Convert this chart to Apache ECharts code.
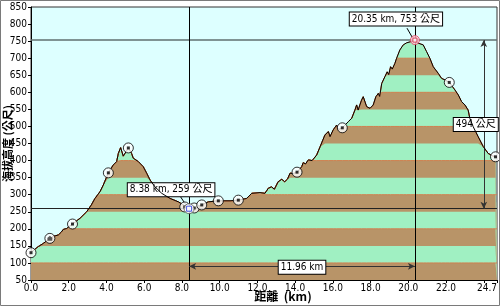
<!DOCTYPE html>
<html>
<head>
<meta charset="utf-8">
<script src="https://cdn.jsdelivr.net/npm/echarts@6/dist/echarts.min.js"></script>
<style>html,body{margin:0;padding:0;background:#fff}#c{width:500px;height:306px}</style>
</head>
<body>
<div id="c"></div>
<script>
// Elevation profile: distance (km) and elevation (公尺)
const dist = [0.00,0.20,0.39,0.65,1.00,1.20,1.45,1.60,1.71,1.89,2.20,2.60,2.95,3.20,3.39,3.66,3.83,4.10,4.36,4.54,4.63,4.75,4.89,4.98,5.16,5.33,5.42,5.69,5.95,6.13,6.31,6.57,6.93,7.37,7.81,8.07,8.38,8.69,9.05,9.40,9.93,10.55,10.99,11.43,11.70,12.14,12.40,12.58,12.75,12.90,13.10,13.29,13.45,13.60,13.73,13.90,14.11,14.35,14.43,14.55,14.70,14.90,15.14,15.32,15.58,15.76,15.85,16.02,16.20,16.29,16.50,16.82,17.00,17.17,17.26,17.34,17.52,17.61,17.79,17.97,18.14,18.28,18.41,18.48,18.59,18.76,18.88,18.96,19.06,19.15,19.29,19.38,19.55,19.73,19.91,20.10,20.35,20.53,20.79,20.97,21.14,21.32,21.58,21.76,21.95,22.17,22.47,22.65,22.82,23.00,23.17,23.26,23.44,23.70,23.97,24.23,24.45,24.62,24.70];
const elev = [130,140,148,157,172,178,182,190,198,201,214,231,250,270,289,309,328,364,387,397,421,438,413,418,437,421,407,397,382,363,343,323,304,289,279,270,259,261,270,279,282,282,284,289,304,306,304,319,323,316,338,345,338,346,363,362,366,382,394,390,402,400,416,440,475,485,470,490,504,490,496,514,524,548,563,548,577,587,558,553,563,587,597,588,626,646,660,652,675,668,685,700,724,739,745,748,753,744,739,719,700,675,656,641,636,629,607,592,573,563,548,524,499,470,441,421,414,411,410];

// Waypoint markers
const markerKm   = [0.0, 2.2, 4.1, 5.16, 8.15, 8.65, 9.05, 9.93, 10.99, 14.1, 16.5, 22.17, 24.62];
const markerElev = [130, 214, 364, 437, 264, 261, 270, 282, 284, 366, 496, 629, 411];
const houseKm = [1.0], houseElev = [172];

// Extremes and measured differences (as labelled)
const lowKm = 8.38, lowElev = 259;
const highKm = 20.35, highElev = 753;
const riseLabel = 494;     // 公尺
const spanLabel = 11.96;   // km
const arrowKm = 24.0, spanArrowElev = 90;

// Band edges (alternating colour stripes)
const bandLows = [50,100,150,200,250,300,350,400,450,500,550,600,650,700,750];

// pick a condensed font if one is installed
function pickNarrow() {
  const cands = ['Liberation Sans Narrow', 'Arial Narrow', 'DejaVu Sans Condensed', 'Roboto Condensed', 'Open Sans Condensed'];
  const ctx = document.createElement('canvas').getContext('2d');
  const s = '8.38 km, 259 0123456789';
  ctx.font = '20px monospace'; const base = ctx.measureText(s).width;
  for (const c of cands) {
    ctx.font = '20px "' + c + '", monospace';
    if (Math.abs(ctx.measureText(s).width - base) > 0.5) return c;
  }
  return null;
}
const narrow = pickNarrow();
const NUM_FONT = narrow ? '"' + narrow + '","Liberation Sans",sans-serif' : '"Liberation Sans",Arial,sans-serif';
const NUM_SIZE = 10;
const CJK_FONT = NUM_FONT.replace(',sans-serif', ',"Noto Sans CJK TC",sans-serif');

const BROWN = '#B89468', GREEN = '#A0F0C2', EDGE = '#D08050';

const profile = dist.map((d, i) => [d, elev[i]]);
const bandSeries = [];
for (let k = bandLows.length - 1; k >= 0; k--) {
  const hi = bandLows[k] + 50;
  const brown = k % 2 === 0;
  bandSeries.push({
    type: 'line', silent: true, symbol: 'none', animation: false,
    data: dist.map((d, i) => [d, Math.min(elev[i], hi)]),
    lineStyle: brown ? { color: EDGE, width: 1 } : { width: 0, opacity: 0 },
    areaStyle: { color: brown ? BROWN : GREEN, opacity: 1, origin: 'start' },
    z: 2
  });
}

const boxLabel = {
  show: true, color: '#000', fontSize: NUM_SIZE, fontFamily: CJK_FONT,
  backgroundColor: '#fff', borderColor: '#000', borderWidth: 1, padding: [2, 2, 1, 2]
};

const chart = echarts.init(document.getElementById('c'), null, { renderer: 'canvas' });
chart.setOption({
  animation: false,
  backgroundColor: '#fff',
  graphic: [{
    type: 'rect', shape: { x: 0.5, y: 0.5, width: 499, height: 305 },
    style: { fill: 'none', stroke: '#7a7a7a', lineWidth: 1 }, z: 100
  }],
  grid: { left: 31, right: 3, top: 7, bottom: 26, outerBoundsMode: 'none', containLabel: false,
    show: true, backgroundColor: '#DDFFFF', borderColor: '#333', borderWidth: 1 },
  xAxis: {
    type: 'value', min: 0, max: 24.7, interval: 2,
    name: '距離  (km)', nameLocation: 'middle', nameGap: 10, nameMoveOverlap: false,
    nameTextStyle: { fontSize: 12, fontWeight: 'bold', color: '#000', fontFamily: '"Noto Sans CJK TC",sans-serif', padding: [0, 0, 0, 38] },
    axisLine: { lineStyle: { color: '#000' } },
    axisTick: { show: true, length: 3, lineStyle: { color: '#000' } },
    axisLabel: { color: '#000', fontSize: NUM_SIZE, fontFamily: NUM_FONT, margin: 3, showMaxLabel: true, alignMaxLabel: 'right',
      formatter: v => (v === 24 ? '' : v.toFixed(1)) },
    splitLine: { show: false }
  },
  yAxis: {
    type: 'value', min: 50, max: 850, interval: 50,
    name: '海拔高度 (公尺)', nameLocation: 'middle', nameGap: 18, nameRotate: 90, nameMoveOverlap: false,
    nameTextStyle: { fontSize: 11, fontWeight: 'bold', color: '#000', fontFamily: '"Noto Sans CJK TC",sans-serif' },
    axisLine: { show: true, lineStyle: { color: '#000' } },
    axisTick: { show: true, length: 3, lineStyle: { color: '#000' } },
    axisLabel: { color: '#000', fontSize: NUM_SIZE, fontFamily: NUM_FONT, margin: 4 },
    splitLine: { show: false }
  },
  series: bandSeries.concat([
    {
      type: 'line', name: 'profile', data: profile, symbol: 'none', z: 5,
      lineStyle: { color: '#000', width: 1 },
      markLine: {
        silent: true, symbol: ['none', 'none'], animation: false,
        label: { show: false },
        lineStyle: { type: 'solid', color: '#000', width: 1 },
        data: [
          [{ coord: [0, highElev], lineStyle: { color: '#5f6f6f', width: 1.5, type: 'solid' } }, { coord: [24.7, highElev] }],
          [{ coord: [0, lowElev], lineStyle: { color: '#222', width: 1, type: 'solid' } }, { coord: [24.7, lowElev] }],
          [{ coord: [lowKm, 50] }, { coord: [lowKm, 850] }],
          [{ coord: [highKm, 50] }, { coord: [highKm, 850] }],
          [{ coord: [7.9, 296] }, { coord: [8.3, 263] }],
          [{ coord: [19.93, 788] }, { coord: [20.22, 760] }]
        ]
      }
    },
    {
      type: 'line', name: 'arrows', data: [], z: 6,
      markLine: {
        silent: true, animation: false, symbol: ['arrow', 'arrow'], symbolSize: [5, 7],
        label: { show: false },
        lineStyle: { color: '#333', width: 1, type: 'solid' },
        data: [
          [{ coord: [arrowKm, highElev] }, { coord: [arrowKm, lowElev] }],
          [{ coord: [lowKm, spanArrowElev] }, { coord: [highKm, spanArrowElev] }]
        ]
      },
      markPoint: {
        silent: true, animation: false, symbol: 'circle', symbolSize: 0,
        data: [
          { coord: [lowKm, lowElev], label: Object.assign({}, boxLabel, { formatter: lowKm.toFixed(2) + ' km, ' + lowElev + ' 公尺', offset: [-18, -19] }) },
          { coord: [highKm, highElev], label: Object.assign({}, boxLabel, { formatter: highKm.toFixed(2) + ' km, ' + highElev + ' 公尺', offset: [-19, -21] }) },
          { coord: [arrowKm, (highElev + lowElev) / 2], label: Object.assign({}, boxLabel, { formatter: riseLabel + ' 公尺', offset: [-8, 0] }) },
          { coord: [(lowKm + highKm) / 2, spanArrowElev], label: Object.assign({}, boxLabel, { formatter: spanLabel.toFixed(2) + ' km', offset: [0, 1] }) }
        ]
      }
    },
    {
      type: 'scatter', name: 'wp', z: 7, symbol: 'circle', symbolSize: 10,
      data: markerKm.map((d, i) => [d, markerElev[i]]),
      itemStyle: { color: '#fff', borderColor: '#000', borderWidth: 1 }
    },
    {
      type: 'scatter', name: 'wpdot', z: 8, symbol: 'rect', symbolSize: 3,
      data: markerKm.map((d, i) => [d, markerElev[i]]),
      itemStyle: { color: '#000' }
    },
    {
      type: 'scatter', name: 'house', z: 7, symbol: 'circle', symbolSize: 10,
      data: houseKm.map((d, i) => [d, houseElev[i]]),
      itemStyle: { color: '#fff', borderColor: '#000', borderWidth: 1 }
    },
    {
      type: 'scatter', name: 'houseicon', z: 8, symbol: 'path://M5,0 L10,5 L9,5 L9,10 L1,10 L1,5 L0,5 Z', symbolSize: [6, 5],
      data: houseKm.map((d, i) => [d, houseElev[i]]),
      itemStyle: { color: '#333' }
    },
    {
      type: 'scatter', name: 'low', z: 9, symbol: 'circle', symbolSize: 10,
      data: [[lowKm, lowElev]],
      itemStyle: { color: '#fff', borderColor: '#555', borderWidth: 1 }
    },
    {
      type: 'scatter', name: 'lowsq', z: 10, symbol: 'rect', symbolSize: 5,
      data: [[lowKm, lowElev]],
      itemStyle: { color: '#fff', borderColor: '#2030e0', borderWidth: 1 }
    },
    {
      type: 'scatter', name: 'high', z: 9, symbol: 'circle', symbolSize: 9,
      data: [[highKm, highElev]],
      itemStyle: { color: '#ffd0d8', borderColor: '#e04060', borderWidth: 1 }
    },
    {
      type: 'scatter', name: 'highsq', z: 10, symbol: 'rect', symbolSize: 4,
      data: [[highKm, highElev]],
      itemStyle: { color: '#fff', borderColor: '#d02040', borderWidth: 1 }
    }
  ])
});
</script>
</body>
</html>
